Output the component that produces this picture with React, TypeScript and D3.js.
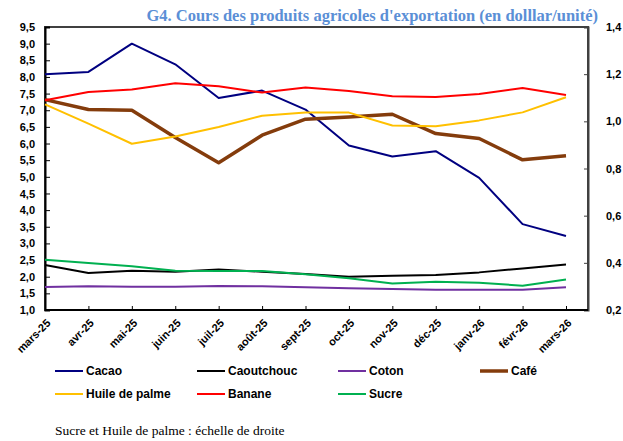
import React from "react";
import * as d3 from "d3";

// mois (axe des x)
const months = [
  "mars-25", "avr-25", "mai-25", "juin-25", "juil-25", "août-25", "sept-25",
  "oct-25", "nov-25", "déc-25", "janv-26", "févr-26", "mars-26",
];

// échelle de gauche
const cacao = [8.08, 8.15, 9.0, 8.38, 7.37, 7.59, 7.02, 5.94, 5.61, 5.77, 4.97, 3.58, 3.22];
const caoutchouc = [2.35, 2.11, 2.18, 2.15, 2.22, 2.15, 2.08, 2.0, 2.03, 2.05, 2.13, 2.25, 2.37];
const coton = [1.69, 1.71, 1.7, 1.7, 1.72, 1.71, 1.68, 1.65, 1.63, 1.61, 1.61, 1.61, 1.68];
const cafe = [7.32, 7.02, 7.0, 6.18, 5.42, 6.25, 6.73, 6.8, 6.88, 6.3, 6.15, 5.51, 5.63];
const banane = [7.3, 7.55, 7.62, 7.81, 7.72, 7.53, 7.68, 7.58, 7.42, 7.4, 7.49, 7.67, 7.46];

// échelle de droite
const huilePalme = [1.072, 0.99, 0.905, 0.936, 0.976, 1.024, 1.037, 1.037, 0.982, 0.979, 1.004, 1.038, 1.102];
const sucre = [0.413, 0.399, 0.386, 0.366, 0.365, 0.365, 0.352, 0.335, 0.312, 0.32, 0.316, 0.303, 0.329];

const leftTicks = d3.range(1, 9.51, 0.5);
const rightTicks = [0.2, 0.4, 0.6, 0.8, 1.0, 1.2, 1.4];

const series = [
  { name: "Cacao", values: cacao, color: "#000080", width: 2, axis: "left" },
  { name: "Caoutchouc", values: caoutchouc, color: "#000000", width: 2, axis: "left" },
  { name: "Coton", values: coton, color: "#7030A0", width: 2, axis: "left" },
  { name: "Café", values: cafe, color: "#843C0C", width: 3.5, axis: "left" },
  { name: "Huile de palme", values: huilePalme, color: "#FFC000", width: 2, axis: "right" },
  { name: "Banane", values: banane, color: "#FF0000", width: 2, axis: "left" },
  { name: "Sucre", values: sucre, color: "#00B050", width: 2, axis: "right" },
];

const fmt = (v: number, d: number) => v.toFixed(d).replace(".", ",");

const App = () => {
  const svgRef = React.useRef<SVGSVGElement>(null);
  const W = 623;
  const H = 441;
  const left = 45, right = 588, top = 27, bottom = 310;

  React.useEffect(() => {
    const svg = d3.select(svgRef.current);
    svg.selectAll("*").remove();

    const x = d3.scalePoint<string>().domain(months).range([left, 566]);
    const yL = d3.scaleLinear().domain([1, 9.5]).range([bottom, top]);
    const yR = d3.scaleLinear().domain([0.2, 1.4]).range([bottom, top]);

    // titre
    svg.append("text")
      .attr("x", 598).attr("y", 21)
      .attr("text-anchor", "end")
      .attr("font-family", "'Liberation Serif', 'Times New Roman', serif")
      .attr("font-weight", "bold")
      .attr("font-size", 16.5)
      .attr("fill", "#5B8FD6")
      .text("G4. Cours des produits agricoles d'exportation (en dolllar/unité)");

    // cadre
    svg.append("rect")
      .attr("x", left).attr("y", top)
      .attr("width", right - left).attr("height", bottom - top)
      .attr("fill", "none").attr("stroke", "#404040").attr("stroke-width", 2);

    const axisFont = (g: any) => g.selectAll("text")
      .attr("font-family", "'Liberation Sans', Arial, sans-serif")
      .attr("font-weight", "bold")
      .attr("font-size", 11)
      .attr("fill", "#000");

    // axe gauche
    const yAxisL = svg.append("g")
      .attr("transform", `translate(${left},0)`)
      .call(d3.axisLeft(yL).tickValues(leftTicks).tickSize(-5).tickPadding(10).tickFormat((v: any) => fmt(v, 1)));
    yAxisL.select(".domain").attr("stroke", "#000").attr("stroke-width", 2);
    yAxisL.selectAll("line").attr("stroke", "#000");
    axisFont(yAxisL);

    // axe droit
    const yAxisR = svg.append("g")
      .attr("transform", `translate(${right},0)`)
      .call(d3.axisRight(yR).tickValues(rightTicks).tickSize(-4).tickPadding(18).tickFormat((v: any) => fmt(v, 1)));
    yAxisR.select(".domain").attr("stroke", "#404040").attr("stroke-width", 2);
    yAxisR.selectAll("line").attr("stroke", "#404040");
    axisFont(yAxisR);

    // axe des x
    const xAxis = svg.append("g")
      .attr("transform", `translate(0,${bottom})`)
      .call(d3.axisBottom(x).tickSize(-4).tickSizeOuter(0));
    xAxis.select(".domain").attr("stroke", "#000").attr("stroke-width", 2).attr("d", `M${left},0H${right}`);
    xAxis.selectAll("line").attr("stroke", "#000");
    axisFont(xAxis);
    xAxis.selectAll("text")
      .attr("text-anchor", "end")
      .attr("dy", "0.35em")
      .attr("transform", "translate(3,11) rotate(-45)")
      .attr("y", 0).attr("x", 0);

    // courbes
    series.forEach((s) => {
      const scale = s.axis === "right" ? yR : yL;
      const line = d3.line<number>()
        .x((_, i) => x(months[i]) as number)
        .y((d) => scale(d));
      svg.append("path")
        .attr("fill", "none")
        .attr("stroke", s.color)
        .attr("stroke-width", s.width)
        .attr("stroke-linejoin", "round")
        .attr("d", line(s.values));
    });

    // légende
    const legendX = [55, 197, 338, 480];
    const legendY = [371, 394];
    const lg = svg.append("g")
      .selectAll("g")
      .data(series)
      .enter()
      .append("g")
      .attr("transform", (_, i) => `translate(${legendX[i % 4]},${legendY[Math.floor(i / 4)]})`);
    lg.append("line")
      .attr("x1", 0).attr("x2", 28)
      .attr("stroke", (d) => d.color)
      .attr("stroke-width", (d) => d.width);
    lg.append("text")
      .attr("x", 31).attr("dy", "0.35em")
      .attr("font-family", "'Liberation Sans', Arial, sans-serif")
      .attr("font-weight", "bold")
      .attr("font-size", 12)
      .text((d) => d.name);

    // note
    svg.append("text")
      .attr("x", 55).attr("y", 435)
      .attr("font-family", "'Liberation Serif', 'Times New Roman', serif")
      .attr("font-size", 13.5)
      .text("Sucre et Huile de palme : échelle de droite");
  }, []);

  return (
    <svg
      ref={svgRef}
      width={W}
      height={H}
      style={{ position: "absolute", left: 0, top: 0, background: "#fff" }}
    />
  );
};

export default App;
